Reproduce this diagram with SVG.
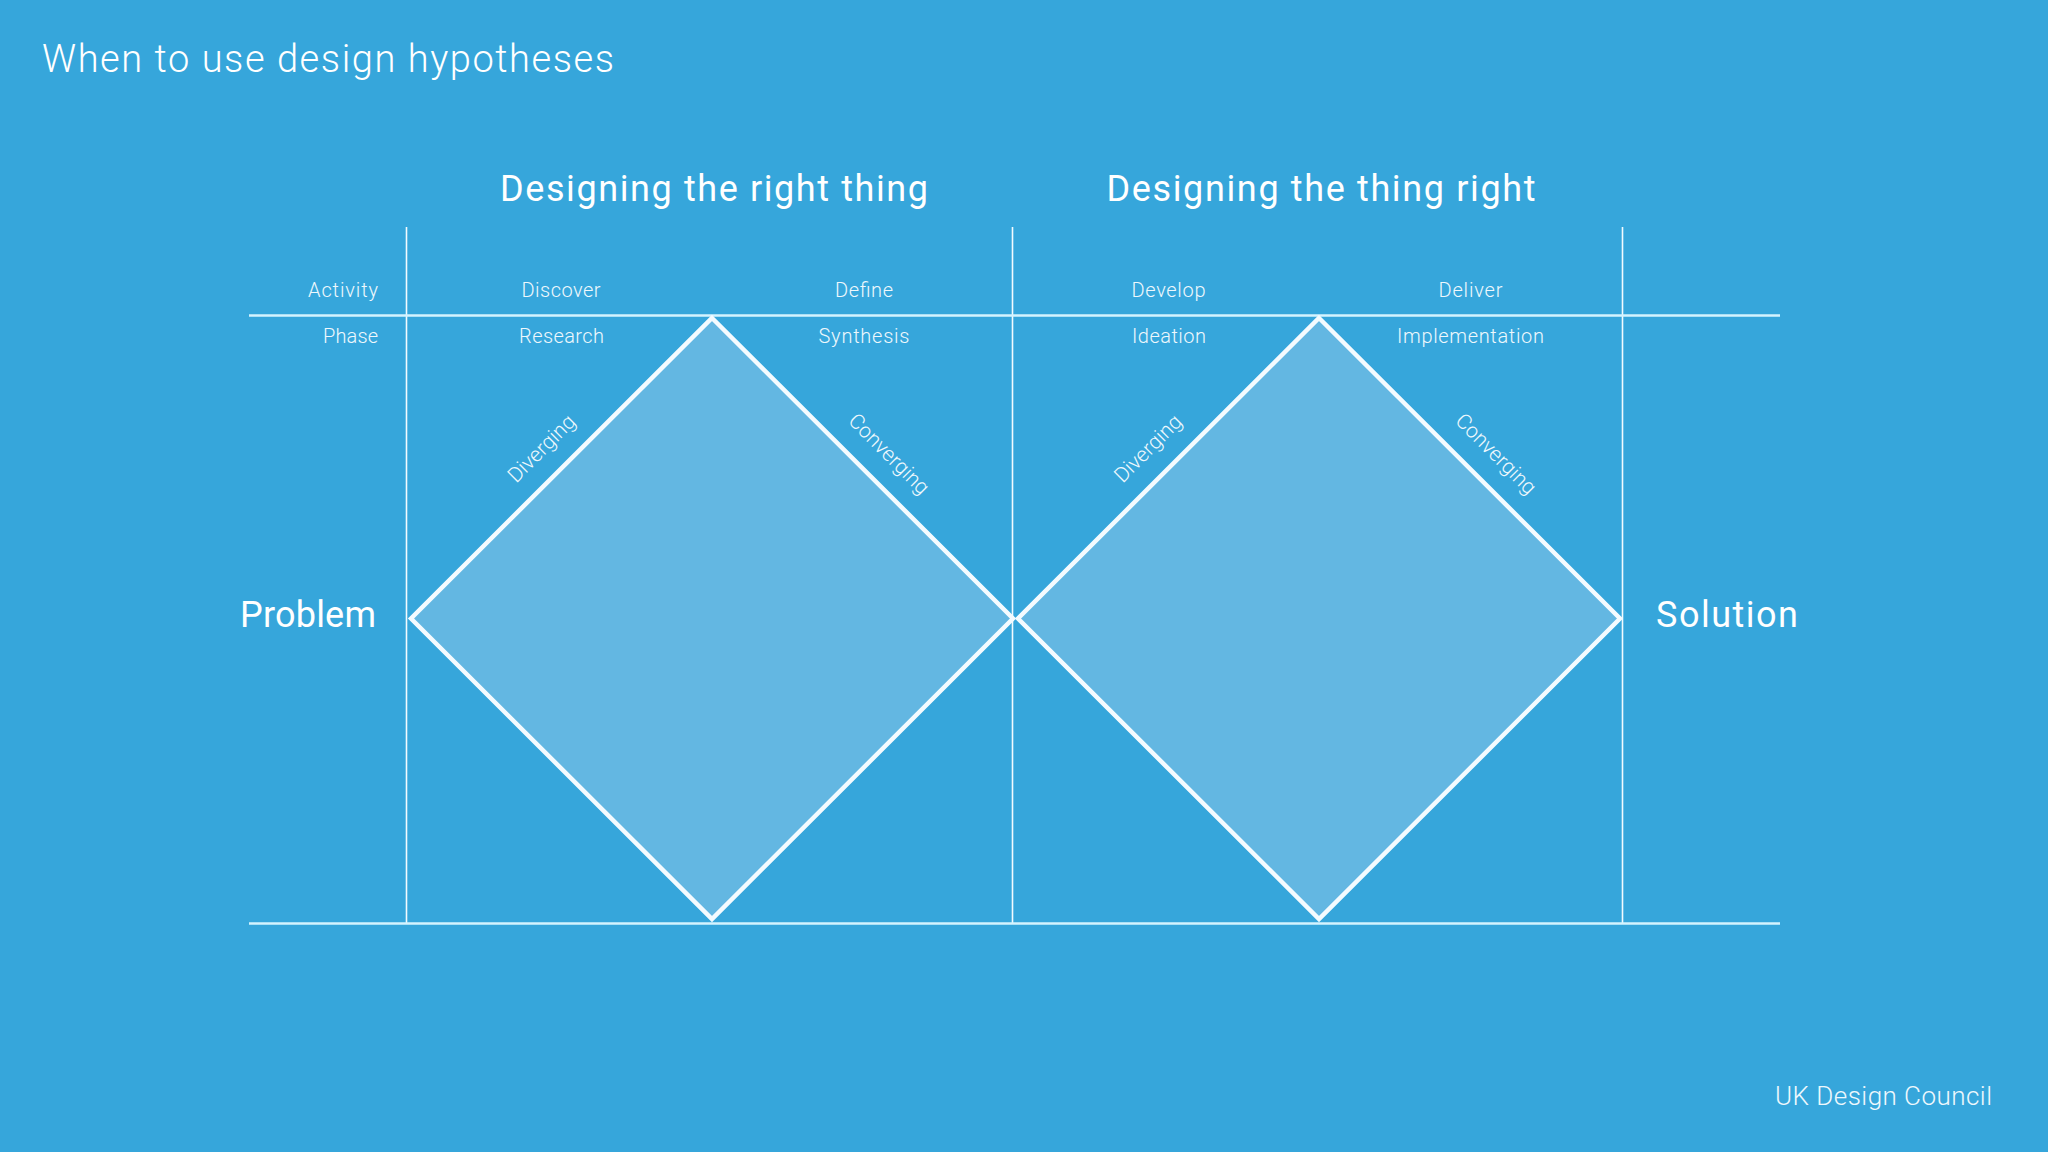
<svg xmlns="http://www.w3.org/2000/svg" width="2048" height="1152" viewBox="0 0 2048 1152">
  <defs>
    <style>
      .bg { fill: #36a6db; }
      .diamond { fill: #63b7e2; stroke: #f4fbff; stroke-width: 4.5; stroke-linejoin: miter; }
      .vline { stroke: #f2faff; stroke-width: 1.6; fill: none; }
      .hline { stroke: #d4f3ff; stroke-width: 2.4; fill: none; }
      text { fill: #ffffff; font-family: Roboto, "Noto Sans", "Liberation Sans", sans-serif; }
      .title { font-size: 38px; font-weight: 300; }
      .head { font-size: 36px; font-weight: 400; text-anchor: middle; }
      .small { font-size: 20px; font-weight: 300; fill: #eef8fd; }
      .mid { text-anchor: middle; }
      .end { text-anchor: end; }
      .edge { font-size: 21px; font-weight: 300; fill: #eef8fd; text-anchor: middle; }
      .big { font-size: 36px; font-weight: 400; }
      .credit { font-size: 26px; font-weight: 300; fill: #eef8fd; }
    </style>
  </defs>

  <rect class="bg" x="0" y="0" width="2048" height="1152"/>

  <g id="title">
    <text class="title" x="42" y="72" textLength="572">When to use design hypotheses</text>
  </g>

  <g id="headings">
    <text class="head" x="714" y="201" textLength="428">Designing the right thing</text>
    <text class="head" x="1321" y="201" textLength="429">Designing the thing right</text>
  </g>

  <g id="grid">
    <line class="vline" x1="406.5" y1="227" x2="406.5" y2="923"/>
    <line class="vline" x1="1012.5" y1="227" x2="1012.5" y2="923"/>
    <line class="vline" x1="1622.5" y1="227" x2="1622.5" y2="923"/>
    <line class="hline" x1="249" y1="315.5" x2="1780" y2="315.5"/>
    <line class="hline" x1="249" y1="923.5" x2="1780" y2="923.5"/>
  </g>

  <g id="diamond-right-thing">
    <polygon class="diamond" points="712,318 1013,618.5 712,919 411,618.5"/>
    <text class="edge" transform="translate(541.5,448.5) rotate(-45)" x="0" y="7">Diverging</text>
    <text class="edge" transform="translate(889,454) rotate(45)" x="0" y="7">Converging</text>
  </g>

  <g id="diamond-thing-right">
    <polygon class="diamond" points="1319,318 1620,618.5 1319,919 1018,618.5"/>
    <text class="edge" transform="translate(1148,448.5) rotate(-45)" x="0" y="7">Diverging</text>
    <text class="edge" transform="translate(1496,454) rotate(45)" x="0" y="7">Converging</text>
  </g>

  <g id="row-labels">
    <text class="small end" x="378" y="297" textLength="70">Activity</text>
    <text class="small end" x="378" y="343" textLength="55">Phase</text>
  </g>

  <g id="activities">
    <text class="small mid" x="561" y="297" textLength="79">Discover</text>
    <text class="small mid" x="864" y="297" textLength="58">Define</text>
    <text class="small mid" x="1168.5" y="297" textLength="74">Develop</text>
    <text class="small mid" x="1470.5" y="297" textLength="64">Deliver</text>
  </g>

  <g id="phases">
    <text class="small mid" x="561.5" y="343" textLength="85">Research</text>
    <text class="small mid" x="864" y="343" textLength="91">Synthesis</text>
    <text class="small mid" x="1169" y="343" textLength="74">Ideation</text>
    <text class="small mid" x="1470.5" y="343" textLength="147">Implementation</text>
  </g>

  <g id="problem">
    <text class="big" x="240" y="627" textLength="136">Problem</text>
  </g>

  <g id="solution">
    <text class="big" x="1656" y="627" textLength="142">Solution</text>
  </g>

  <g id="credit">
    <text class="credit" x="1775" y="1105" textLength="217">UK Design Council</text>
  </g>
</svg>
